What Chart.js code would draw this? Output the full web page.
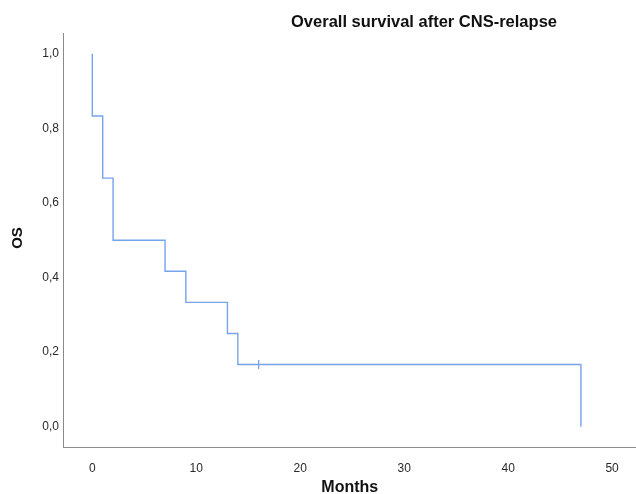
<!DOCTYPE html>
<html>
<head>
<meta charset="utf-8">
<script src="https://cdn.jsdelivr.net/npm/chart.js@4/dist/chart.umd.min.js"></script>
<style>
  html, body { margin: 0; padding: 0; background: #ffffff; }
  #wrap { width: 636px; height: 494px; }
</style>
</head>
<body>
<div id="wrap"><canvas id="c" width="636" height="494"></canvas></div>
<script>
// Kaplan-Meier estimate: event times (months) and survival after each step
const eventTimes = [0, 0, 1, 2, 7, 9, 13, 14, 47];
const survival   = [1.0, 0.8333, 0.6667, 0.5, 0.4167, 0.3333, 0.25, 0.1667, 0.0];
// censored observations
const censorTimes    = [16];
const censorSurvival = [0.1667];
// tick labels
const xTicks = [0, 10, 20, 30, 40, 50];
const yTicks = [0.0, 0.2, 0.4, 0.6, 0.8, 1.0];

const chartTitle = 'Overall survival after CNS-relapse';
const xTitle = 'Months';
const yTitle = 'OS';

const lineColor = '#74a4ea';
const axisColor = '#8a8a8a';
const textColor = '#2a2a2a';

const kmData = eventTimes.map((t, i) => ({ x: t, y: survival[i] }));
const censorData = censorTimes.map((t, i) => ({ x: t, y: censorSurvival[i] }));

const textPlugin = {
  id: 'texts',
  afterDraw(chart) {
    const ctx = chart.ctx;
    const area = chart.chartArea;
    ctx.save();
    ctx.fillStyle = '#111111';
    ctx.textAlign = 'center';
    ctx.textBaseline = 'middle';
    ctx.font = 'bold 16.5px "Liberation Sans", Arial, sans-serif';
    ctx.fillText(chartTitle, 424, 22);
    ctx.font = 'bold 16px "Liberation Sans", Arial, sans-serif';
    ctx.fillText(xTitle, (area.left + area.right) / 2, 488);
    ctx.translate(18, 238);
    ctx.rotate(-Math.PI / 2);
    ctx.font = 'bold 15px "Liberation Sans", Arial, sans-serif';
    ctx.fillText(yTitle, 0, 0);
    ctx.restore();
  }
};

const fmt = v => v.toFixed(1).replace('.', ',');

new Chart(document.getElementById('c'), {
  type: 'scatter',
  data: {
    datasets: [
      {
        type: 'line',
        data: kmData,
        stepped: 'before',
        borderColor: lineColor,
        borderWidth: 1.4,
        pointRadius: 0,
        fill: false,
        tension: 0
      },
      {
        type: 'scatter',
        data: censorData,
        pointStyle: 'line',
        rotation: 90,
        radius: 4.5,
        borderColor: lineColor,
        backgroundColor: lineColor,
        borderWidth: 1.3
      }
    ]
  },
  options: {
    responsive: false,
    devicePixelRatio: 1,
    animation: false,
    layout: { autoPadding: false, padding: { top: 33, left: 0, right: 0, bottom: 0 } },
    plugins: {
      legend: { display: false },
      title: { display: false },
      tooltip: { enabled: false }
    },
    scales: {
      x: {
        type: 'linear',
        min: -2.77,
        max: 52.3,
        grid: { display: false, drawTicks: false },
        border: { display: true, color: axisColor, width: 1 },
        afterBuildTicks: s => { s.ticks = xTicks.map(v => ({ value: v })); },
        afterFit: s => { s.height = 46.5; s.paddingLeft = 0; s.paddingRight = 0; },
        ticks: {
          padding: 14,
          color: textColor,
          font: { family: '"Liberation Sans", Arial, sans-serif', size: 12 },
          maxRotation: 0,
          callback: v => String(v)
        }
      },
      y: {
        type: 'linear',
        min: -0.056,
        max: 1.056,
        grid: { display: false, drawTicks: false },
        border: { display: true, color: axisColor, width: 1 },
        afterBuildTicks: s => { s.ticks = yTicks.map(v => ({ value: v })); },
        afterFit: s => { s.width = 63.5; s.paddingTop = 0; s.paddingBottom = 0; },
        ticks: {
          padding: 4.5,
          color: textColor,
          font: { family: '"Liberation Sans", Arial, sans-serif', size: 12 },
          callback: v => fmt(v)
        }
      }
    }
  },
  plugins: [textPlugin]
});
</script>
</body>
</html>
